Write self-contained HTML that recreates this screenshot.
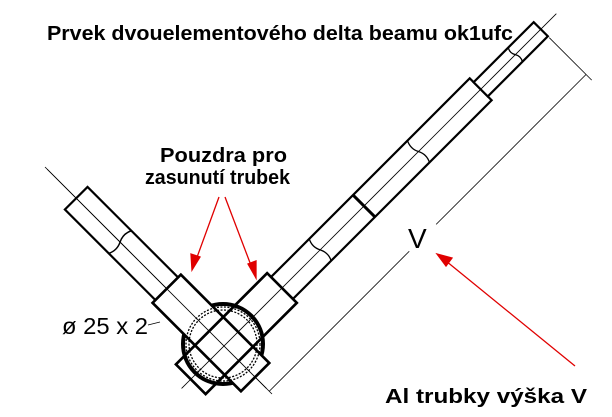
<!DOCTYPE html>
<html><head><meta charset="utf-8"><style>
html,body{margin:0;background:#fff;width:612px;height:417px;overflow:hidden;}
svg{display:block;}
</style></head><body>
<svg width="612" height="417" viewBox="0 0 612 417" xmlns="http://www.w3.org/2000/svg">
<rect width="612" height="417" fill="#fff"/>
<circle cx="223" cy="344" r="40" fill="none" stroke="#000" stroke-width="4"/>
<!-- left arm -->
<g transform="translate(224,346) rotate(-135)" stroke="#000" fill="#fff">
  <rect x="81" y="-16" width="128" height="32" stroke-width="2.2"/>
  <line x1="-60" y1="0" x2="250" y2="0" stroke-width="0.8"/>
  <path d="M147,-16 q-4,8 0,16 q4,8 0,16" fill="none" stroke-width="1.5"/>
  <rect x="-44" y="-20" width="125" height="40" stroke-width="2.5"/>
</g>
<!-- right arm -->
<g transform="translate(224,346) rotate(-45)" stroke="#000" fill="#fff">
  <rect x="82" y="-15.5" width="281" height="31" stroke-width="2.2"/>
  <rect x="363" y="-10" width="85" height="20" stroke-width="2.2"/>
  <line x1="198" y1="-15.5" x2="198" y2="15.5" stroke-width="3"/>
  <line x1="-60" y1="0" x2="470" y2="0" stroke-width="0.8"/>
  <path d="M136,-15.5 q-4,8 0,15.5 q4,8 0,15.5" fill="none" stroke-width="1.3"/>
  <path d="M275,-15.5 q-4,8 0,15.5 q4,8 0,15.5" fill="none" stroke-width="1.3"/>
  <path d="M412,-10 q-3,5 0,10 q3,5 0,10" fill="none" stroke-width="1.3"/>
  <rect x="-47" y="-21" width="129" height="42" stroke-width="2.5" fill="none"/>
  <line x1="448" y1="12" x2="448" y2="72" stroke-width="0.8"/>
  <line x1="0" y1="64" x2="198" y2="64" stroke-width="0.8"/>
  <line x1="236" y1="64" x2="448" y2="64" stroke-width="0.8"/>
</g>
<g transform="translate(224,346) rotate(-135)" stroke="#000" fill="none">
  <rect x="-44" y="-20" width="125" height="40" stroke-width="2.5"/>
</g>
<g transform="translate(224,346) rotate(-45)" stroke="#000" fill="none">
  <rect x="-47" y="-21" width="129" height="42" stroke-width="2.5"/>
</g>
<line x1="45" y1="167" x2="272" y2="394" stroke="#000" stroke-width="0.8"/>
<circle cx="223" cy="344" r="37" fill="none" stroke="#000" stroke-width="1.3" stroke-dasharray="2,1.5"/>
<circle cx="223" cy="344" r="34" fill="none" stroke="#000" stroke-width="1.3" stroke-dasharray="2,1.5"/>
<line x1="148" y1="325" x2="160" y2="322" stroke="#000" stroke-width="0.8"/>
<g stroke="#e00000" stroke-width="1.3" fill="#e00000">
  <line x1="219" y1="197" x2="196" y2="260"/>
  <polygon points="192,270 191,254 200,257"/>
  <line x1="225" y1="197" x2="252" y2="268"/>
  <polygon points="256,278 248,264 256,261"/>
  <line x1="575" y1="366" x2="446" y2="261"/>
  <polygon points="437,254 452,258 446,266"/>
</g>
<g font-family="Liberation Sans, Arial, sans-serif" fill="#000">
  <text x="47" y="40" font-size="20" font-weight="bold" textLength="466" lengthAdjust="spacingAndGlyphs">Prvek dvouelementového delta beamu ok1ufc</text>
  <text x="160" y="162" font-size="20" font-weight="bold" textLength="127" lengthAdjust="spacingAndGlyphs">Pouzdra pro</text>
  <text x="145" y="184" font-size="20" font-weight="bold" textLength="145" lengthAdjust="spacingAndGlyphs">zasunutí trubek</text>
  <text x="62" y="334" font-size="23" textLength="86" lengthAdjust="spacingAndGlyphs">ø 25 x 2</text>
  <text x="408" y="248" font-size="28">V</text>
  <text x="385" y="403" font-size="20" font-weight="bold" textLength="202" lengthAdjust="spacingAndGlyphs">Al trubky výška V</text>
</g>
</svg>
</body></html>
